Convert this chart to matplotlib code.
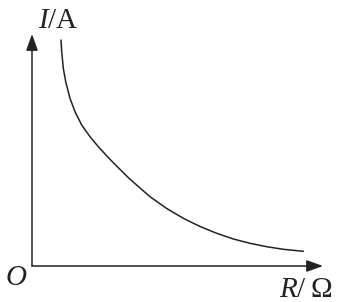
import matplotlib
matplotlib.use("Agg")
import matplotlib.pyplot as plt

plt.rcParams['font.family'] = ['Liberation Serif', 'DejaVu Serif']
plt.rcParams['mathtext.fontset'] = 'custom'
plt.rcParams['mathtext.it'] = 'Liberation Serif:italic'
plt.rcParams['mathtext.rm'] = 'Liberation Serif'

# curve (arbitrary units)
R = [29, 29.7, 31.3, 33.7, 38, 43, 49.7, 58, 66.3, 74.7, 81.3, 97, 118,
     134.7, 151.3, 168, 184.7, 201.3, 218, 234.7, 251.3, 271.3]
I = [226, 214.3, 197.7, 184.3, 167.7, 154.3, 141, 129.3, 119.3, 110.2, 103.3,
     87.7, 69.3, 57.5, 47.7, 39.5, 32.7, 27, 22.7, 19.3, 16.7, 14.7]

fig = plt.figure(figsize=(3.41, 3.02), dpi=100)
ax = fig.add_axes([0, 0, 1, 1])
ax.set_xlim(-32, 309)
ax.set_ylim(-36, 266)
ax.axis('off')

ax.plot(R, I, color='#222222', lw=1.1, solid_capstyle='round',
        solid_joinstyle='round')

arrow = dict(arrowstyle='-|>,head_length=0.5,head_width=0.18', color='#222222',
             lw=1.1, mutation_scale=20, shrinkA=0, shrinkB=0)
ax.annotate('', xy=(0, 232), xytext=(0, 0), arrowprops=arrow)
ax.annotate('', xy=(291, 0), xytext=(0, 0), arrowprops=arrow)

c = '#222222'
ax.text(6, 238, r'$I$/A', fontsize=21, ha='left', va='baseline', color=c)
ax.text(247, -31, r'$R$/', fontsize=21, ha='left', va='baseline', color=c)
ax.text(278, -31, 'Ω', fontsize=21, ha='left', va='baseline', color=c)
ax.text(-27, -19, r'$O$', fontsize=21, ha='left', va='baseline', color=c)

fig.savefig('out.png', dpi=100, facecolor='white')
